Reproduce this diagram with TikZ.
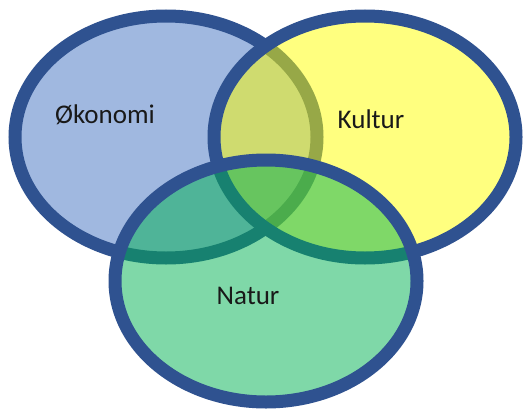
\documentclass[tikz,border=0pt]{standalone}
\usepackage{fontspec}
\setmainfont{Carlito}
\usepackage{tikz}

\definecolor{okofill}{RGB}{160,184,224}
\definecolor{kulfill}{RGB}{255,255,0}
\definecolor{natfill}{RGB}{0,177,81}
\definecolor{rimblue}{RGB}{47,82,144}

\begin{document}
\begin{tikzpicture}[x=1pt, y=-1pt, rim/.style={draw=rimblue, line width=13pt},
                    every node/.style={font=\fontsize{27}{31}\selectfont,
                                       text=black!90}]
                      \useasboundingbox (0,0) rectangle (529,409);

                      % ellipses, drawn in order: fill, then rim
                      \foreach \cx/\cy/\col/\op in {166/137/okofill/1,
                              365/137/kulfill/0.5, 266/281/natfill/0.5} {
                              \fill[\col, fill opacity=\op] (\cx,\cy)
                                  ellipse [x radius=151pt, y radius=121pt];
                              \draw[rim] (\cx,\cy)
                                  ellipse [x radius=151pt, y radius=121pt];
                          }

                      \node (oko) at (105,115) {Økonomi};
                      \node (kul) at (371,119) {Kultur};
                      \node (nat) at (248,296) {Natur};
                  \end{tikzpicture}
\end{document}
